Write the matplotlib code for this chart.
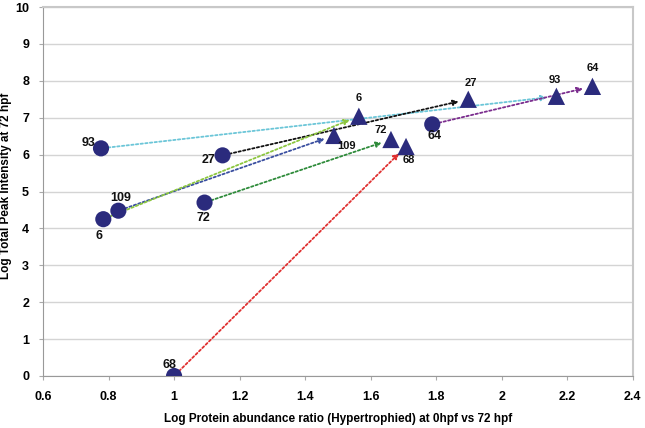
import matplotlib
matplotlib.use("Agg")
import matplotlib.pyplot as plt

labels = ["93", "27", "109", "6", "72", "68", "64"]
x_start = [0.777, 1.148, 0.830, 0.784, 1.093, 1.000, 1.788]
y_start = [6.17, 5.98, 4.48, 4.25, 4.70, 0.00, 6.82]
x_end = [2.167, 1.898, 1.488, 1.564, 1.662, 1.708, 2.277]
y_end = [7.58, 7.50, 6.52, 7.04, 6.41, 6.22, 7.85]
line_colors = ["#6cc6d8", "#111111", "#3a4fa0", "#8cc63f", "#2e8b3a", "#e03030", "#7b2d8e"]

# label offsets in points (start, end)
start_off = [(-9, 4), (-10, -3), (2, 9.5), (-3, -12), (-1, -11), (-3, 8), (1.5, -8.5)]
end_off = [(-1, 12), (2, 12), (9, -7.5), (0, 13), (-7, 7), (2, -10), (0, 13.5)]

plt.rcParams['font.family'] = ['Liberation Sans', 'DejaVu Sans']
fig = plt.figure(figsize=(6.45, 4.28), dpi=100)
ax = fig.add_axes([0.0667, 0.1215, 0.9143, 0.8621])

navy = "#2b2b7d"
for i in range(len(labels)):
    ax.annotate("", xy=(x_end[i], y_end[i]), xytext=(x_start[i], y_start[i]),
                arrowprops=dict(arrowstyle="-|>", color=line_colors[i], lw=1.3,
                                linestyle=(0, (1.3, 1.3)), shrinkA=5, shrinkB=7,
                                mutation_scale=8),
                zorder=2)
ax.scatter(x_start, y_start, s=135, marker='o', color=navy, zorder=3, edgecolors='none')
ax.scatter(x_end, y_end, s=155, marker='^', color=navy, zorder=3, edgecolors='none')

for i in range(len(labels)):
    ax.annotate(labels[i], (x_start[i], y_start[i]), xytext=start_off[i],
                textcoords='offset points', ha='center', va='center',
                fontsize=9, fontweight='bold', color='#111111')
    ax.annotate(labels[i], (x_end[i], y_end[i]), xytext=end_off[i],
                textcoords='offset points', ha='center', va='center',
                fontsize=8, fontweight='bold', color='#111111')

ax.set_xlim(0.6, 2.4)
ax.set_ylim(0, 10)
ax.set_xticks([0.6, 0.8, 1.0, 1.2, 1.4, 1.6, 1.8, 2.0, 2.2, 2.4])
ax.set_xticklabels(["0.6", "0.8", "1", "1.2", "1.4", "1.6", "1.8", "2", "2.2", "2.4"])
ax.set_yticks(range(0, 11))
for lbl in ax.get_xticklabels() + ax.get_yticklabels():
    lbl.set_fontweight('bold')
    lbl.set_fontsize(9)
ax.tick_params(axis='x', length=3, color='#aaaaaa', pad=8)
ax.tick_params(axis='y', length=3, color='#aaaaaa', pad=7)
ax.grid(axis='y', color='#d4d4d4', lw=1)
ax.set_axisbelow(True)
for s in ['left', 'bottom']:
    ax.spines[s].set_color('#999999')
for s in ['right', 'top']:
    ax.spines[s].set_color('#c8c8c8')
    ax.spines[s].set_linewidth(1.5)
ax.set_xlabel("Log Protein abundance ratio (Hypertrophied) at 0hpf vs 72 hpf",
              fontsize=8.5, fontweight='bold', labelpad=7)
ax.set_ylabel("Log Total Peak Intensity at 72 hpf", fontsize=8.5, fontweight='bold')
ax.yaxis.set_label_coords(-0.053, 0.515)
fig.savefig("out.png", dpi=100)
